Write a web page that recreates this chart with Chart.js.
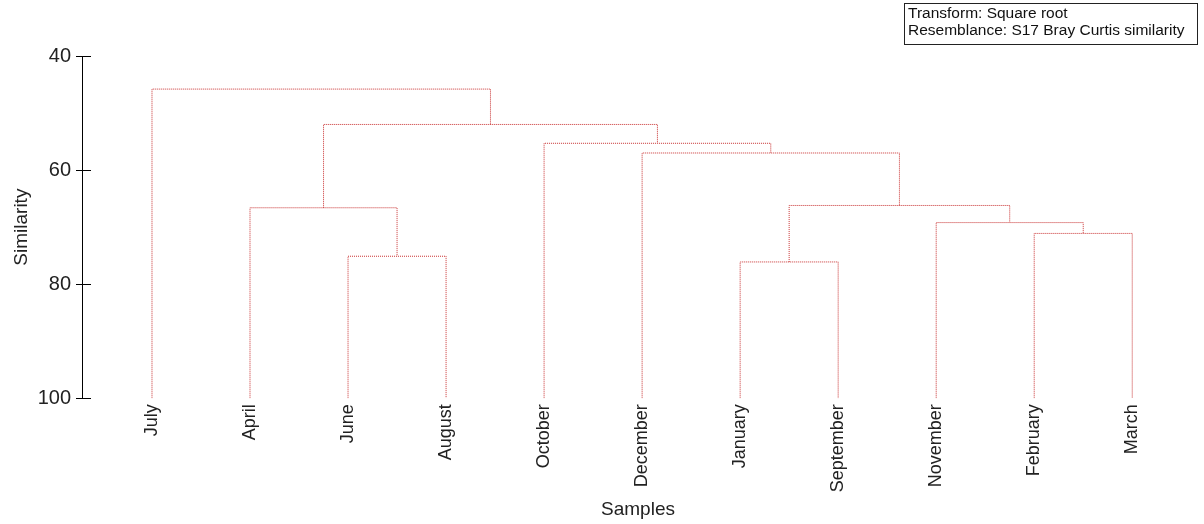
<!DOCTYPE html>
<html>
<head>
<meta charset="utf-8">
<script src="https://cdn.jsdelivr.net/npm/chart.js@4/dist/chart.umd.min.js"></script>
<style>
html,body{margin:0;padding:0;background:#fff;}
#wrap{width:1204px;height:524px;position:relative;}
</style>
</head>
<body>
<div id="wrap"><canvas id="c" width="1204" height="524"></canvas></div>
<script>
// Leaves (samples) in dendrogram order
const samples = ['July','April','June','August','October','December','January','September','November','February','March'];
// Merges: node ids 0..10 are leaves, each merge creates node 11, 12, ...
const mergeLeft   = [2, 6, 9, 8, 1, 12, 5, 4, 15, 0];
const mergeRight  = [3, 7, 10, 13, 11, 14, 16, 17, 18, 19];
const mergeHeight = [75.1, 76.1, 71.1, 69.2, 66.6, 66.2, 57.0, 55.3, 52.0, 45.8];
const yTicks = [40, 60, 80, 100];
const legendLines = ['Transform: Square root', 'Resemblance: S17 Bray Curtis similarity'];

Chart.defaults.font.family = 'Arial, "Liberation Sans", sans-serif';
Chart.defaults.color = '#222';

// Build dendrogram links from arrays
const nodeX = samples.map((_, i) => i);
const nodeH = samples.map(() => 100);
const datasets = [];
mergeLeft.forEach((l, k) => {
  const r = mergeRight[k], h = mergeHeight[k];
  datasets.push({
    data: [{x: nodeX[l], y: nodeH[l]}, {x: nodeX[l], y: h}, {x: nodeX[r], y: h}, {x: nodeX[r], y: nodeH[r]}],
    borderColor: '#c83030',
    borderWidth: 1,
    borderDash: [1, 1],
    pointRadius: 0,
    fill: false,
    tension: 0
  });
  nodeX.push((nodeX[l] + nodeX[r]) / 2);
  nodeH.push(h);
});

const innerTicks = {
  id: 'innerTicks',
  afterDraw(chart) {
    const y = chart.scales.y, ctx = chart.ctx, left = chart.chartArea.left;
    ctx.save();
    ctx.strokeStyle = '#000';
    ctx.lineWidth = 1;
    yTicks.forEach(v => {
      const py = Math.round(y.getPixelForValue(v)) + 0.5;
      ctx.beginPath(); ctx.moveTo(left, py); ctx.lineTo(left + 9, py); ctx.stroke();
    });
    ctx.restore();
  }
};

const legendBox = {
  id: 'legendBox',
  afterDraw(chart) {
    const ctx = chart.ctx;
    ctx.save();
    ctx.strokeStyle = '#222';
    ctx.lineWidth = 1;
    ctx.strokeRect(904.5, 3.5, 293, 41);
    ctx.fillStyle = '#111';
    ctx.font = '15.5px Arial, "Liberation Sans", sans-serif';
    ctx.textBaseline = 'middle';
    ctx.textAlign = 'left';
    legendLines.forEach((t, i) => ctx.fillText(t, 908, 14 + i * 17));
    ctx.restore();
  }
};

new Chart(document.getElementById('c'), {
  type: 'line',
  data: { datasets },
  options: {
    responsive: false,
    animation: false,
    layout: { padding: { top: 56, right: 10, bottom: 0, left: 0 } },
    plugins: { legend: { display: false }, tooltip: { enabled: false } },
    scales: {
      x: {
        type: 'linear',
        min: -0.714,
        max: 10.63,
        border: { display: false },
        grid: { display: false, drawTicks: false },
        afterBuildTicks: s => { s.ticks = samples.map((_, i) => ({ value: i })); },
        afterFit: s => { s.height = 125.7; },
        ticks: {
          autoSkip: false,
          minRotation: 90,
          maxRotation: 90,
          padding: 6,
          color: '#222',
          font: { size: 18 },
          callback: v => samples[v]
        },
        title: { display: true, text: 'Samples', color: '#222', font: { size: 19 }, padding: { top: 4, bottom: 3 } }
      },
      y: {
        min: 40,
        max: 100,
        reverse: true,
        afterBuildTicks: s => { s.ticks = yTicks.map(v => ({ value: v })); },
        afterFit: s => { s.width = 82; },
        border: { display: true, color: '#000', width: 1 },
        grid: { drawOnChartArea: false, drawTicks: true, tickLength: 6, color: '#000' },
        ticks: { padding: 5, color: '#222', font: { size: 20 } },
        title: { display: true, text: 'Similarity', color: '#222', font: { size: 19 }, padding: { top: 10, bottom: 4 } }
      }
    }
  },
  plugins: [innerTicks, legendBox]
});
</script>
</body>
</html>
